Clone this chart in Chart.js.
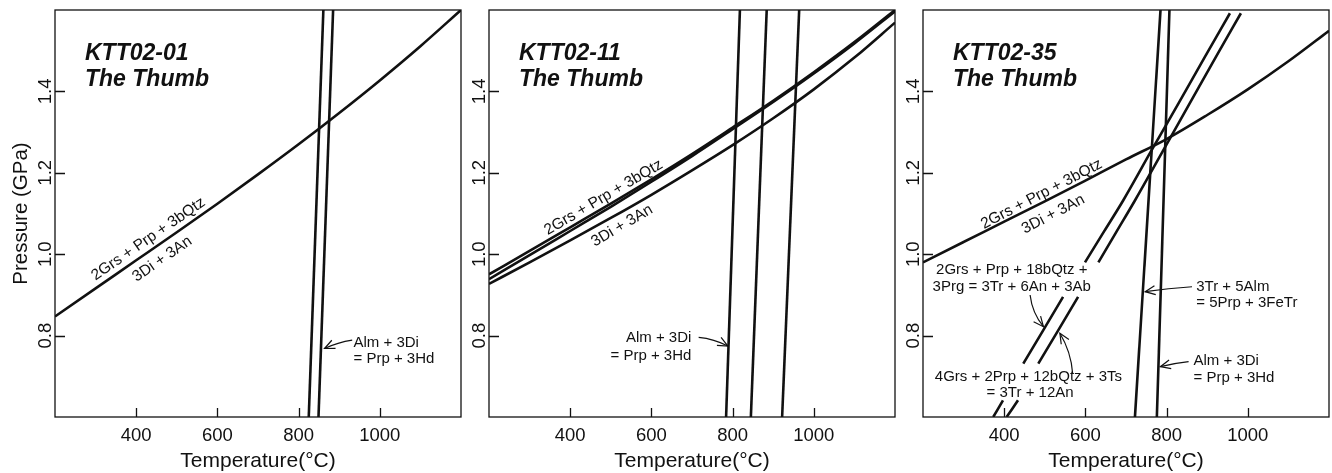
<!DOCTYPE html>
<html><head><meta charset="utf-8">
<script src="https://cdn.jsdelivr.net/npm/chart.js@4/dist/chart.umd.min.js"></script>
<style>
html,body{margin:0;padding:0;background:#fff;overflow:hidden;}
#wrap{position:relative;width:1332px;height:473px;overflow:hidden;}
canvas{position:absolute;top:0;}
</style></head><body>
<div id="wrap">
<canvas id="c1" width="466" height="473" style="left:0px"></canvas>
<canvas id="c2" width="466" height="473" style="left:434px"></canvas>
<canvas id="c3" width="466" height="473" style="left:868px"></canvas>
</div>
<script>
// ---------- data ----------
const TEMPS = [200,300,400,500,600,700,800,900,1000,1100,1200];   // °C
const P_ENDS = [0.6,1.6];                                          // GPa
const X_TICKS = [400,600,800,1000];
const X_TICK_LABELS = ['400','600','800','1000'];
const Y_TICKS = [0.8,1.0,1.2,1.4];
const Y_TICK_LABELS = ['0.8','1.0','1.2','1.4'];

// KTT02-01
const p1GrsPrp  = [0.847,0.916,0.985,1.054,1.124,1.196,1.270,1.347,1.427,1.511,1.600];
const p1AlmDiA_T = [825,861];
const p1AlmDiB_T = [849,885];

// KTT02-11
const p2GrsPrpA = [0.9505,1.008,1.066,1.124,1.184,1.246,1.311,1.377,1.447,1.521,1.600];
const p2GrsPrpB = [0.9385,0.9975,1.057,1.1165,1.178,1.241,1.307,1.374,1.444,1.518,1.597];
const p2GrsPrpC = [0.927,0.980,1.034,1.089,1.146,1.206,1.268,1.334,1.405,1.483,1.569];
const p2AlmDiA_T = [784,818];
const p2AlmDiB_T = [845,884];
const p2AlmDiC_T = [922,964];

// KTT02-35
const p3GrsPrp  = [0.980,1.030,1.080,1.130,1.181,1.233,1.283,1.342,1.405,1.474,1.549];
const p3TrAlm_T = [722,785];
const p3AlmDi_T = [776,807];
const p3Prg_T = [373,397,null,447,496,545,null,599,646,693,760,830,895,956];
const p3Prg_P = [0.600,0.641,null,0.731,0.813,0.895,null,0.980,1.056,1.132,1.250,1.372,1.486,1.592];
const p3Ts_T  = [406,434,null,484,533,582,null,632,677,722,790,860,925,983];
const p3Ts_P  = [0.600,0.641,null,0.731,0.813,0.895,null,0.980,1.056,1.132,1.252,1.376,1.491,1.592];

// ---------- annotations (text in data coordinates) ----------
const ann1 = {
  title:['KTT02-01','The Thumb'],
  rot:[
    {t:'2Grs + Prp + 3bQtz', x:429.9, y:1.0373, a:-34.6},
    {t:'3Di + 3An', x:464.3, y:0.988, a:-34.6}
  ],
  txt:[
    {t:'Alm + 3Di', x:935.2, y:0.781, al:'left'},
    {t:'= Prp + 3Hd', x:935.2, y:0.744, al:'left'}
  ],
  arrows:[{f:[932,0.7887], to:[863.9,0.7683], b:2}]
};
const ann2 = {
  title:['KTT02-11','The Thumb'],
  rot:[
    {t:'2Grs + Prp + 3bQtz', x:482.1, y:1.1393, a:-30.5},
    {t:'3Di + 3An', x:527.8, y:1.0698, a:-30.5}
  ],
  txt:[
    {t:'Alm + 3Di', x:698.4, y:0.7934, al:'right'},
    {t:'= Prp + 3Hd', x:698.4, y:0.7499, al:'right'}
  ],
  arrows:[{f:[716.4,0.7958], to:[788.4,0.7744], b:-3}]
};
const ann3 = {
  title:['KTT02-35','The Thumb'],
  rot:[
    {t:'2Grs + Prp + 3bQtz', x:492.1, y:1.1474, a:-27.5},
    {t:'3Di + 3An', x:520.7, y:1.0983, a:-27.5}
  ],
  txt:[
    {t:'2Grs + Prp + 18bQtz +', x:418.6, y:0.9612, al:'center'},
    {t:'3Prg = 3Tr + 6An + 3Ab', x:418.6, y:0.920, al:'center'},
    {t:'4Grs + 2Prp + 12bQtz + 3Ts', x:459.6, y:0.699, al:'center'},
    {t:'= 3Tr + 12An', x:463.8, y:0.6582, al:'center'},
    {t:'3Tr + 5Alm', x:873, y:0.9201, al:'left'},
    {t:'= 5Prp + 3FeTr', x:873, y:0.8808, al:'left'},
    {t:'Alm + 3Di', x:866.3, y:0.7376, al:'left'},
    {t:'= Prp + 3Hd', x:866.3, y:0.6966, al:'left'}
  ],
  arrows:[
    {f:[463.8,0.8998], to:[496.6,0.8219], b:5},
    {f:[568.5,0.7074], to:[537.2,0.8057], b:5},
    {f:[862.6,0.920], to:[747.2,0.9079], b:1},
    {f:[854.2,0.7359], to:[784.7,0.7236], b:1}
  ]
};

// ---------- helpers ----------
const FONT = "'Liberation Sans', Arial, Helvetica, sans-serif";
const INK = '#111';
const pairs = (xs, ys) => xs.map((x,i)=>({x:(x===null?null:x), y:(ys[i]===null?null:ys[i])}));
const lineDs = (data, smooth) => ({data, showLine:true, borderColor:INK, borderWidth:2.6, pointRadius:0, pointHoverRadius:0,
  tension:0, cubicInterpolationMode: smooth ? 'monotone' : 'default', fill:false, spanGaps:false, clip:0});

function drawArrow(ctx,x0,y0,x1,y1,bend){
  const mx=(x0+x1)/2, my=(y0+y1)/2;
  const dx=x1-x0, dy=y1-y0, len=Math.hypot(dx,dy);
  const nx=-dy/len, ny=dx/len;
  const cx=mx+nx*bend, cy=my+ny*bend;
  ctx.beginPath(); ctx.moveTo(x0,y0); ctx.quadraticCurveTo(cx,cy,x1,y1); ctx.stroke();
  const ang=Math.atan2(y1-cy,x1-cx), h=11, a=0.42;
  ctx.beginPath();
  ctx.moveTo(x1-h*Math.cos(ang-a), y1-h*Math.sin(ang-a));
  ctx.lineTo(x1,y1);
  ctx.lineTo(x1-h*Math.cos(ang+a), y1-h*Math.sin(ang+a));
  ctx.stroke();
}

const decor = {
  id:'decor',
  afterDatasetsDraw(chart, args, opts){
    const {ctx, chartArea:ca, scales:{x, y}} = chart;
    const ann = opts.ann;
    ctx.save();
    ctx.strokeStyle = INK; ctx.fillStyle = INK;
    ctx.lineWidth = 1.3;
    ctx.strokeRect(ca.left, ca.top, ca.right-ca.left, ca.bottom-ca.top);
    ctx.beginPath();
    X_TICKS.forEach(v=>{const px=Math.round(x.getPixelForValue(v))+0.5; ctx.moveTo(px,ca.bottom); ctx.lineTo(px,ca.bottom-9);});
    Y_TICKS.forEach(v=>{const py=Math.round(y.getPixelForValue(v))+0.5; ctx.moveTo(ca.left,py); ctx.lineTo(ca.left+10,py);});
    ctx.stroke();
    ctx.font = `18.5px ${FONT}`;
    ctx.textAlign='center'; ctx.textBaseline='alphabetic';
    Y_TICKS.forEach((v,i)=>{
      const py=y.getPixelForValue(v);
      ctx.save(); ctx.translate(ca.left-4, py); ctx.rotate(-Math.PI/2);
      ctx.fillText(Y_TICK_LABELS[i],0,0); ctx.restore();
    });
    ctx.font = `italic bold 23px ${FONT}`;
    ctx.textAlign='left';
    ctx.fillText(ann.title[0], ca.left+30, ca.top+50);
    ctx.fillText(ann.title[1], ca.left+30, ca.top+76);
    ctx.font = `15.5px ${FONT}`;
    ctx.textAlign='center'; ctx.textBaseline='middle';
    ann.rot.forEach(r=>{
      ctx.save(); ctx.translate(x.getPixelForValue(r.x), y.getPixelForValue(r.y));
      ctx.rotate(r.a*Math.PI/180); ctx.fillText(r.t,0,0); ctx.restore();
    });
    ctx.font = `15px ${FONT}`;
    ann.txt.forEach(r=>{
      ctx.textAlign=r.al;
      ctx.fillText(r.t, x.getPixelForValue(r.x), y.getPixelForValue(r.y));
    });
    ctx.lineWidth = 1.2;
    ann.arrows.forEach(a=>{
      drawArrow(ctx, x.getPixelForValue(a.f[0]), y.getPixelForValue(a.f[1]),
                     x.getPixelForValue(a.to[0]), y.getPixelForValue(a.to[1]), a.b);
    });
    ctx.restore();
  }
};

function makeChart(id, datasets, ann, yTitle){
  return new Chart(document.getElementById(id), {
    type:'scatter',
    data:{datasets},
    plugins:[decor],
    options:{
      responsive:false, animation:false, devicePixelRatio:1,
      layout:{padding:{top:10,right:5,bottom:0,left:0}},
      plugins:{legend:{display:false}, tooltip:{enabled:false}, decor:{ann}},
      events:[],
      scales:{
        x:{type:'linear', min:200, max:1200,
           grid:{display:false, drawTicks:false}, border:{display:false},
           afterBuildTicks:s=>{s.ticks = X_TICKS.map(v=>({value:v}));},
           afterFit:s=>{s.height=56;},
           ticks:{autoSkip:false, maxRotation:0, minRotation:0, padding:8, color:INK,
                  font:{family:FONT,size:18.5},
                  callback:v=>X_TICK_LABELS[X_TICKS.indexOf(v)]},
           title:{display:true, text:'Temperature(°C)', color:INK, font:{family:FONT,size:21}, padding:{top:0,bottom:-1}}
        },
        y:{type:'linear', min:0.6, max:1.6,
           grid:{display:false, drawTicks:false}, border:{display:false},
           afterBuildTicks:s=>{s.ticks = Y_TICKS.map(v=>({value:v}));},
           afterFit:s=>{s.width=55;},
           ticks:{display:false},
           title:{display:!!yTitle, text:yTitle||'', color:INK, font:{family:FONT,size:20.5}, padding:{top:9,bottom:0}}
        }
      }
    }
  });
}

makeChart('c1', [
  lineDs(pairs(TEMPS, p1GrsPrp), true),
  lineDs(pairs(p1AlmDiA_T, P_ENDS)),
  lineDs(pairs(p1AlmDiB_T, P_ENDS))
], ann1, 'Pressure (GPa)');

makeChart('c2', [
  lineDs(pairs(TEMPS, p2GrsPrpA), true),
  lineDs(pairs(TEMPS, p2GrsPrpB), true),
  lineDs(pairs(TEMPS, p2GrsPrpC), true),
  lineDs(pairs(p2AlmDiA_T, P_ENDS)),
  lineDs(pairs(p2AlmDiB_T, P_ENDS)),
  lineDs(pairs(p2AlmDiC_T, P_ENDS))
], ann2, null);

makeChart('c3', [
  lineDs(pairs(TEMPS, p3GrsPrp), true),
  lineDs(pairs(p3TrAlm_T, P_ENDS)),
  lineDs(pairs(p3AlmDi_T, P_ENDS)),
  lineDs(pairs(p3Prg_T, p3Prg_P), true),
  lineDs(pairs(p3Ts_T, p3Ts_P), true)
], ann3, null);
</script>
</body></html>
